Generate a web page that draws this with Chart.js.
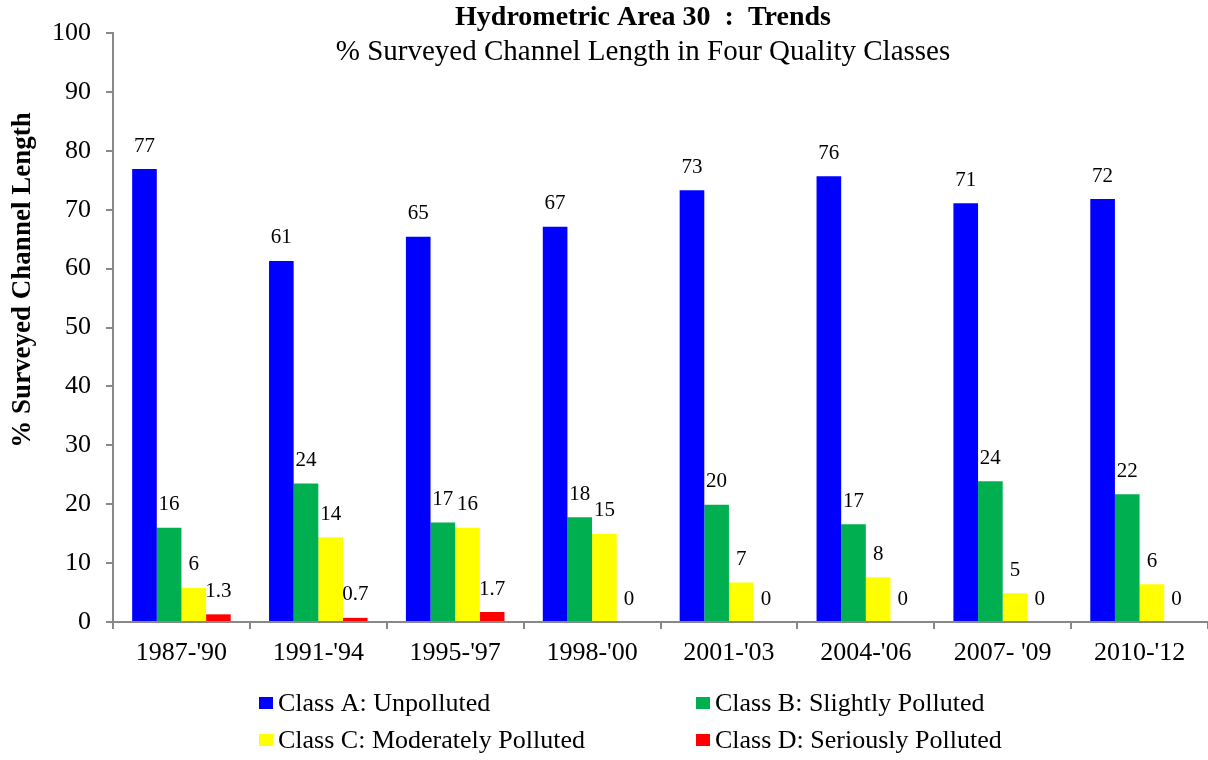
<!DOCTYPE html>
<html>
<head>
<meta charset="utf-8">
<script src="https://cdn.jsdelivr.net/npm/chart.js@4/dist/chart.umd.min.js"></script>
<style>
  html, body { margin: 0; padding: 0; background: #fff; }
  #wrap { width: 1208px; height: 760px; position: relative; }
</style>
</head>
<body>
<div id="wrap"><canvas id="chart"></canvas></div>
<script>
const periods = ["1987-'90", "1991-'94", "1995-'97", "1998-'00", "2001-'03", "2004-'06", "2007- '09", "2010-'12"];
const classA = [76.9, 61.3, 65.4, 67.1, 73.3, 75.7, 71.1, 71.8];
const classB = [16.0, 23.5, 16.9, 17.8, 19.9, 16.6, 23.9, 21.7];
const classC = [5.8, 14.4, 16.0, 15.0, 6.7, 7.6, 4.9, 6.4];
const classD = [1.3, 0.7, 1.7, 0, 0, 0, 0, 0];
const yTicks = [0, 10, 20, 30, 40, 50, 60, 70, 80, 90, 100];

const serif = "'Liberation Serif', 'Times New Roman', serif";

function labelText(v, dsIndex) {
    if (dsIndex === 3 && v > 0) return v.toFixed(1);
    return String(Math.round(v));
}

// value labels above each bar
const barLabels = {
    id: 'barLabels',
    afterDatasetsDraw(chart) {
        const ctx = chart.ctx;
        ctx.save();
        ctx.font = '21px ' + serif;
        ctx.fillStyle = '#000';
        ctx.textAlign = 'center';
        ctx.textBaseline = 'middle';
        chart.data.datasets.forEach((ds, i) => {
            chart.getDatasetMeta(i).data.forEach((bar, j) => {
                ctx.fillText(labelText(ds.data[j], i), bar.x, bar.y - 23);
            });
        });
        ctx.restore();
    }
};

// titles, y axis title and two-column legend
const extras = {
    id: 'extras',
    afterDraw(chart) {
        const ctx = chart.ctx;
        ctx.save();
        ctx.fillStyle = '#000';
        ctx.textAlign = 'center';
        ctx.textBaseline = 'middle';
        ctx.font = 'bold 28px ' + serif;
        ctx.fillText('Hydrometric Area 30  :  Trends', 643, 18);
        ctx.font = '29px ' + serif;
        ctx.fillText('% Surveyed Channel Length in Four Quality Classes', 643, 52);

        ctx.save();
        ctx.translate(23, 280);
        ctx.rotate(-Math.PI / 2);
        ctx.font = 'bold 27px ' + serif;
        ctx.fillText('% Surveyed Channel Length', 0, 0);
        ctx.restore();

        ctx.textAlign = 'left';
        ctx.font = '26px ' + serif;
        const cols = [259, 696];
        const rows = [703, 740];
        chart.data.datasets.forEach((ds, i) => {
            const x = cols[i % 2];
            const y = rows[Math.floor(i / 2)];
            ctx.fillStyle = ds.backgroundColor;
            ctx.fillRect(x, y - 6, 14, 12);
            ctx.fillStyle = '#000';
            ctx.fillText(ds.label, x + 19, y + 1);
        });
        ctx.restore();
    }
};

new Chart(document.getElementById('chart'), {
    type: 'bar',
    data: {
        labels: periods,
        datasets: [
            { label: 'Class A: Unpolluted', data: classA, backgroundColor: '#0000FF' },
            { label: 'Class B: Slightly Polluted', data: classB, backgroundColor: '#00B050' },
            { label: 'Class C: Moderately Polluted', data: classC, backgroundColor: '#FFFF00' },
            { label: 'Class D: Seriously Polluted', data: classD, backgroundColor: '#FF0000' }
        ]
    },
    options: {
        responsive: true,
        maintainAspectRatio: false,
        animation: false,
        datasets: {
            bar: { categoryPercentage: 0.72, barPercentage: 1.0 }
        },
        layout: { padding: { top: 33, bottom: 88, right: 0, left: 0 } },
        plugins: {
            legend: { display: false },
            tooltip: { enabled: false }
        },
        scales: {
            x: {
                grid: { drawOnChartArea: false, color: '#888', tickLength: 7, lineWidth: 2 },
                border: { color: '#888', width: 2 },
                ticks: { color: '#000', font: { family: serif, size: 26 }, padding: 9 },
                afterFit(scale) { scale.height = 50; }
            },
            y: {
                min: 0,
                max: 100,
                afterBuildTicks(scale) { scale.ticks = yTicks.map(v => ({ value: v })); },
                grid: { drawOnChartArea: false, color: '#888', tickLength: 7, lineWidth: 2 },
                border: { color: '#888', width: 2 },
                ticks: { color: '#000', font: { family: serif, size: 26 }, padding: 15 },
                afterFit(scale) { scale.width = 113; }
            }
        }
    },
    plugins: [barLabels, extras]
});
</script>
</body>
</html>
